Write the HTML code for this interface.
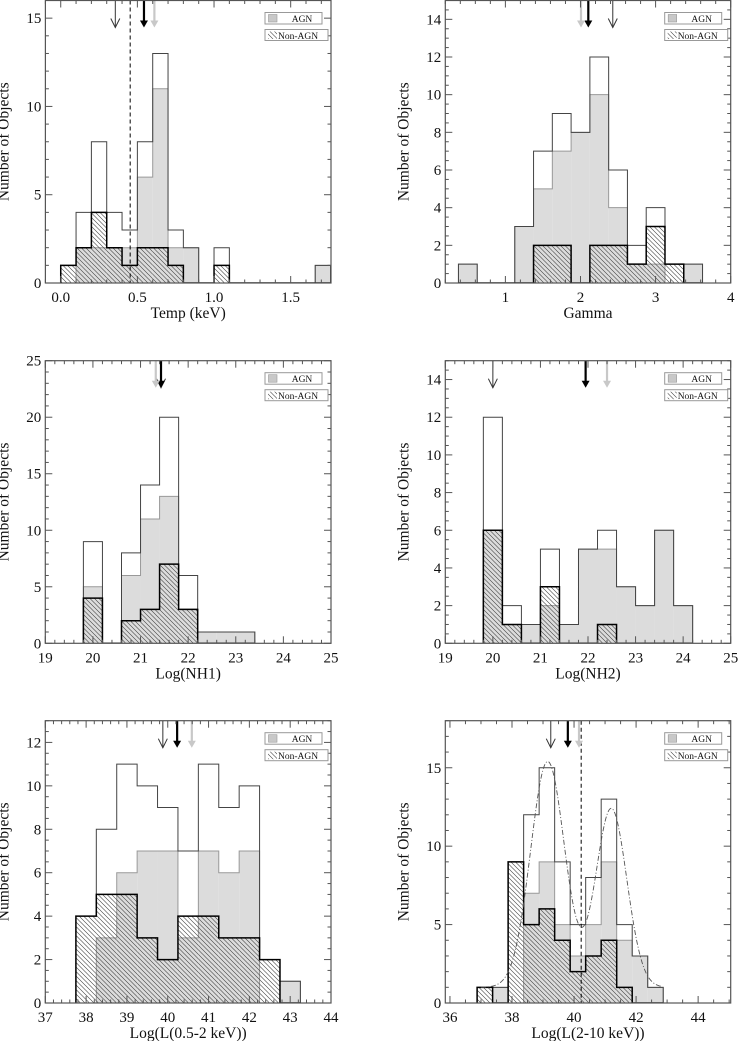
<!DOCTYPE html>
<html><head><meta charset="utf-8">
<style>
html,body{margin:0;padding:0;background:#fff;}
svg{display:block;}
svg text{font-family:"Liberation Serif","DejaVu Serif",serif;}
</style></head>
<body>
<svg id="chart" width="738" height="1041" viewBox="0 0 738 1041" xmlns="http://www.w3.org/2000/svg" font-family="Liberation Serif, serif">
<defs>
<pattern id="hatch" patternUnits="userSpaceOnUse" width="4.5" height="4.5">
<path d="M-1,-1 L5.5,5.5 M-1,3.5 L1,5.5 M3.5,-1 L5.5,1" stroke="#3a3a3a" stroke-width="0.6"/>
</pattern>
</defs>
</svg>
<script>
// ---- Panel 1: Temp (keV)
const p1Bins = [0.0,0.1,0.2,0.3,0.4,0.5,0.6,0.7,0.8,0.9,1.0,1.66];
const p1Total = [1,4,8,4,3,8,13,3,2,0,2,1];
const p1Agn = [0,2,2,2,2,6,11,2,2,0,0,1];
const p1Non = [1,2,4,2,1,2,2,1,0,0,1,0];
const p1XTicks = [0,0.5,1.0,1.5];
const p1XLabels = ["0.0","0.5","1.0","1.5"];
const p1YTicks = [0,5,10,15];
const p1Arrows = [0.356,0.543,0.611];
// ---- Panel 2: Gamma
const p2Bins = [0.375,0.625,0.875,1.125,1.375,1.625,1.875,2.125,2.375,2.625,2.875,3.125,3.375];
const p2Total = [1,0,0,3,7,9,8,12,6,2,4,1,1];
const p2Agn = [1,0,0,3,5,7,8,10,4,1,1,0,1];
const p2Non = [0,0,0,0,2,2,0,2,2,1,3,1,0];
const p2XTicks = [1,2,3,4];
const p2XLabels = ["1","2","3","4"];
const p2YTicks = [0,2,4,6,8,10,12,14];
const p2Arrows = [2.43,2.104,2.007];
// ---- Panel 3: Log(NH1)
const p3Bins = [19.8,20.2,20.6,21.0,21.4,21.8,22.2,22.6,23.0];
const p3Total = [9,0,8,14,20,6,1,1,1];
const p3Agn = [5,0,6,11,13,3,1,1,1];
const p3Non = [4,0,2,3,7,3,0,0,0];
const p3XTicks = [19,20,21,22,23,24,25];
const p3XLabels = ["19","20","21","22","23","24","25"];
const p3YTicks = [0,5,10,15,20,25];
const p3Arrows = [21.43,21.43,21.32];
// ---- Panel 4: Log(NH2)
const p4Bins = [19.8,20.2,20.6,21.0,21.4,21.8,22.2,22.6,23.0,23.4,23.8];
const p4Total = [12,2,1,5,1,5,6,3,2,6,2];
const p4Agn = [6,1,1,2,1,5,5,3,2,6,2];
const p4Non = [6,1,0,3,0,0,1,0,0,0,0];
const p4XTicks = [19,20,21,22,23,24,25];
const p4XLabels = ["19","20","21","22","23","24","25"];
const p4YTicks = [0,2,4,6,8,10,12,14];
const p4Arrows = [20.0,21.95,22.4];
// ---- Panel 5: Log(L(0.5-2 keV))
const p5Bins = [37.75,38.25,38.75,39.25,39.75,40.25,40.75,41.25,41.75,42.25,42.75];
const p5Total = [4,8,11,10,9,7,11,9,10,2,1];
const p5Agn = [0,3,6,7,7,3,7,6,7,0,1];
const p5Non = [4,5,5,3,2,4,4,3,3,2,0];
const p5XTicks = [37,38,39,40,41,42,43,44];
const p5XLabels = ["37","38","39","40","41","42","43","44"];
const p5YTicks = [0,2,4,6,8,10,12];
const p5Arrows = [39.88,40.23,40.59];
// ---- Panel 6: Log(L(2-10 keV))
const p6Bins = [36.875,37.375,37.875,38.375,38.875,39.375,39.875,40.375,40.875,41.375,41.875,42.375];
const p6Total = [1,1,9,12,15,9,5,8,13,5,3,1];
const p6Agn = [0,1,0,7,9,5,3,5,9,4,3,1];
const p6Non = [1,0,9,5,6,4,2,3,4,1,0,0];
const p6XTicks = [36,38,40,42,44];
const p6XLabels = ["36","38","40","42","44"];
const p6YTicks = [0,5,10,15];
const p6Arrows = [39.25,39.8,40.16];
const p6FitCenters = [39.15,41.2];
const p6FitAmps = [14.4,11.4];
const p6FitSigmas = [0.55,0.5];
const p6FitBase = [1];

const NS = "http://www.w3.org/2000/svg";
const svg = document.getElementById("chart");
const FONT = '"Liberation Serif", "DejaVu Serif", serif';
function mk(tag, attrs, parent){
  const e = document.createElementNS(NS, tag);
  for (const k in attrs) e.setAttribute(k, attrs[k]);
  if (tag === "text") e.setAttribute("font-family", FONT);
  (parent||svg).appendChild(e);
  return e;
}

function panel(cfg){
  const g = mk("g", {});
  
  
  const {L,R,T,B,x0,x1,y0,y1,w} = cfg;
  const sx = v => L + (v - x0) / (x1 - x0) * (R - L);
  const sy = v => B - (v - y0) / (y1 - y0) * (B - T);
  const clipId = "clip-" + cfg.name;
  const cp = mk("clipPath", {id: clipId}, g);
  mk("rect", {x:L, y:T, width:R-L, height:B-T}, cp);
  const inner = mk("g", {"clip-path": "url(#"+clipId+")"}, g);

  function stepPath(vals){
    let d = "M" + sx(cfg.bins[0]) + "," + sy(0);
    for (let i=0;i<vals.length;i++){
      const a = cfg.bins[i], b = a + w;
      if (i>0 && Math.abs(cfg.bins[i-1]+w - a) > 1e-6) d += " L" + sx(cfg.bins[i-1]+w) + "," + sy(0) + " L" + sx(a) + "," + sy(0);
      d += " L" + sx(a) + "," + sy(vals[i]) + " L" + sx(b) + "," + sy(vals[i]);
    }
    d += " L" + sx(cfg.bins[vals.length-1]+w) + "," + sy(0);
    return d;
  }
  cfg.agn.forEach((v,i)=>{
    if (v<=0) return;
    const r = mk("rect", {x:sx(cfg.bins[i]), y:sy(v), width:sx(cfg.bins[i]+w)-sx(cfg.bins[i]), height:sy(0)-sy(v), fill:"#dcdcdc"}, inner);
    
    
  });
  const agnLine = mk("path", {d:stepPath(cfg.agn), fill:"none", stroke:"#999", "stroke-width":1}, inner);
  
  
  cfg.non.forEach((v,i)=>{
    if (v<=0) return;
    const r = mk("rect", {x:sx(cfg.bins[i]), y:sy(v), width:sx(cfg.bins[i]+w)-sx(cfg.bins[i]), height:sy(0)-sy(v), fill:"url(#hatch)"}, inner);
    
    
  });
  const totLine = mk("path", {d:stepPath(cfg.total), fill:"none", stroke:"#444", "stroke-width":1}, inner);
  
  
  const nonLine = mk("path", {d:stepPath(cfg.non), fill:"none", stroke:"#000", "stroke-width":1.5}, inner);
  
  

  if (cfg.fit){
    let d = "";
    for (let x = cfg.fit.from; x <= cfg.fit.to + 1e-9; x += 0.02){
      let y = p6FitBase[0];
      for (let k=0;k<p6FitCenters.length;k++) y += p6FitAmps[k]*Math.exp(-Math.pow(x-p6FitCenters[k],2)/(2*p6FitSigmas[k]*p6FitSigmas[k]));
      d += (d ? " L" : "M") + sx(x).toFixed(2) + "," + sy(y).toFixed(2);
    }
    const fc = mk("path", {d:d, fill:"none", stroke:"#555", "stroke-width":0.9, "stroke-dasharray":"5,2,1,2"}, inner);
    
    
  }
  if (cfg.dashed !== undefined){
    const dl = mk("line", {x1:sx(cfg.dashed), x2:sx(cfg.dashed), y1:T, y2:B, stroke:"#000", "stroke-width":1, "stroke-dasharray":"4,3"}, inner);
    
    
  }
  const aLen = 27;
  const styles = [
    {c:"#333", sw:1, filled:false},
    {c:"#000", sw:2.2, filled:true},
    {c:"#c8c8c8", sw:2.2, filled:true}
  ];
  cfg.arrows.forEach((v,i)=>{
    const st = styles[i]; const x = sx(v);
    const ag = mk("g", {}, g);
    
    
    mk("line", {x1:x, x2:x, y1:T, y2:T+aLen-(st.filled?4:0), stroke:st.c, "stroke-width":st.sw}, ag);
    if (st.filled) mk("path", {d:`M${x-4},${T+aLen-7} L${x+4},${T+aLen-7} L${x},${T+aLen} Z`, fill:st.c}, ag);
    else mk("path", {d:`M${x-4.5},${T+aLen-9} L${x},${T+aLen} L${x+4.5},${T+aLen-9}`, fill:"none", stroke:st.c, "stroke-width":1}, ag);
  });

  const fr = mk("rect", {x:L, y:T, width:R-L, height:B-T, fill:"none", stroke:"#555", "stroke-width":1.2}, g);
  
  
  for (let v = Math.ceil(x0/cfg.xMinor - 1e-6)*cfg.xMinor; v <= x1+1e-6; v += cfg.xMinor){
    const X = sx(v);
    const isMaj = cfg.xTicks.some(t=>Math.abs(t-v)<1e-6);
    const len = isMaj ? 7 : 3.5;
    mk("line", {x1:X,x2:X,y1:B,y2:B-len,stroke:"#555","stroke-width":1}, g);
    mk("line", {x1:X,x2:X,y1:T,y2:T+len,stroke:"#555","stroke-width":1}, g);
  }
  for (let v = y0; v <= y1+1e-6; v += cfg.yMinor){
    const Y = sy(v);
    const isMaj = cfg.yTicks.some(t=>Math.abs(t-v)<1e-6);
    const len = isMaj ? 7 : 3.5;
    mk("line", {x1:L,x2:L+len,y1:Y,y2:Y,stroke:"#555","stroke-width":1}, g);
    mk("line", {x1:R,x2:R-len,y1:Y,y2:Y,stroke:"#555","stroke-width":1}, g);
  }
  cfg.xTicks.forEach((t,i)=>{
    const tx = mk("text", {x:sx(t), y:B+19, "text-anchor":"middle", "font-size":15, fill:"#111"}, g);
    tx.textContent = cfg.xLabels[i];
    
    
  });
  cfg.yTicks.forEach(t=>{
    const tx = mk("text", {x:L-4, y:sy(t)+5, "text-anchor":"end", "font-size":15, fill:"#111"}, g);
    tx.textContent = String(t);
    
    
  });
  const xt = mk("text", {x:(L+R)/2, y:B+35, "text-anchor":"middle", "font-size":15.5, fill:"#111"}, g);
  xt.textContent = cfg.xTitle;
  
  
  const yx = L - 37, yy = (T+B)/2;
  const yt = mk("text", {x:yx, y:yy, "text-anchor":"middle", "font-size":15.5, fill:"#111", transform:`rotate(-90 ${yx} ${yy})`}, g);
  yt.textContent = "Number of Objects";
  
  

  const lx = R - 66;
  const lg = mk("g", {}, g);
  
  
  const e1 = mk("g", {}, lg);
  
  
  mk("rect", {x:lx, y:T+12, width:57, height:11.5, fill:"#fff", stroke:"#999", "stroke-width":1}, e1);
  mk("rect", {x:lx+3.5, y:T+14, width:8.5, height:7.5, fill:"#c8c8c8", stroke:"#999", "stroke-width":0.6}, e1);
  const t1 = mk("text", {x:lx+37, y:T+21.5, "text-anchor":"middle", "font-size":9.5, fill:"#111"}, e1);
  t1.textContent = "AGN";
  const e2 = mk("g", {}, lg);
  
  
  mk("rect", {x:lx, y:T+29, width:63, height:11, fill:"#fff", stroke:"#999", "stroke-width":1}, e2);
  mk("rect", {x:lx+3, y:T+31, width:9, height:7.5, fill:"url(#hatch)"}, e2);
  const t2 = mk("text", {x:lx+13, y:T+38.5, "font-size":9.5, fill:"#111"}, e2);
  t2.textContent = "Non-AGN";
}

panel({name:"panel-temp", L:45.4,R:331,T:0.5,B:283, x0:-0.1,x1:1.763,y0:0,y1:16, w:0.1,
  bins:p1Bins,total:p1Total,agn:p1Agn,non:p1Non, xTicks:p1XTicks,xLabels:p1XLabels,xMinor:0.1,
  yTicks:p1YTicks,yMinor:1, arrows:p1Arrows, dashed:0.453, xTitle:"Temp (keV)"});
panel({name:"panel-gamma", L:445.3,R:730.7,T:0.5,B:283, x0:0.2,x1:4,y0:0,y1:15, w:0.25,
  bins:p2Bins,total:p2Total,agn:p2Agn,non:p2Non, xTicks:p2XTicks,xLabels:p2XLabels,xMinor:0.2,
  yTicks:p2YTicks,yMinor:0.5, arrows:p2Arrows, xTitle:"Gamma"});
panel({name:"panel-nh1", L:45.3,R:331,T:360.7,B:643.3, x0:19,x1:25,y0:0,y1:25, w:0.4,
  bins:p3Bins,total:p3Total,agn:p3Agn,non:p3Non, xTicks:p3XTicks,xLabels:p3XLabels,xMinor:0.2,
  yTicks:p3YTicks,yMinor:1, arrows:p3Arrows, xTitle:"Log(NH1)"});
panel({name:"panel-nh2", L:445.3,R:730.7,T:360.7,B:643.3, x0:19,x1:25,y0:0,y1:15, w:0.4,
  bins:p4Bins,total:p4Total,agn:p4Agn,non:p4Non, xTicks:p4XTicks,xLabels:p4XLabels,xMinor:0.2,
  yTicks:p4YTicks,yMinor:0.5, arrows:p4Arrows, xTitle:"Log(NH2)"});
panel({name:"panel-lsoft", L:45.3,R:331,T:720.7,B:1003, x0:37,x1:44,y0:0,y1:13, w:0.5,
  bins:p5Bins,total:p5Total,agn:p5Agn,non:p5Non, xTicks:p5XTicks,xLabels:p5XLabels,xMinor:0.2,
  yTicks:p5YTicks,yMinor:0.5, arrows:p5Arrows, xTitle:"Log(L(0.5-2 keV))"});
panel({name:"panel-lhard", L:445.3,R:730.7,T:720.7,B:1003, x0:35.85,x1:45.05,y0:0,y1:18, w:0.5,
  bins:p6Bins,total:p6Total,agn:p6Agn,non:p6Non, xTicks:p6XTicks,xLabels:p6XLabels,xMinor:0.5,
  yTicks:p6YTicks,yMinor:1, arrows:p6Arrows, dashed:40.23, fit:{from:37.0,to:42.8}, xTitle:"Log(L(2-10 keV))"});
</script>
</body></html>
